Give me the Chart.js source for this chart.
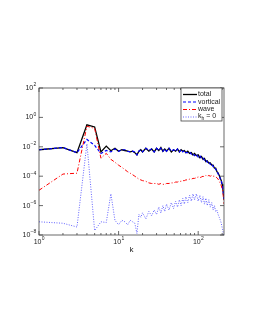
<!DOCTYPE html>
<html>
<head>
<meta charset="utf-8">
<script src="https://cdn.jsdelivr.net/npm/chart.js@4.4.1/dist/chart.umd.min.js"></script>
<style>
  html, body { margin: 0; padding: 0; background: #fff; }
  canvas { display: block; }
</style>
</head>
<body>
<canvas id="espectro" width="255" height="330"></canvas>
<script>
// wavenumbers
const kValues = [1, 2, 3, 4, 5, 6, 7, 8, 9, 10,
  11, 12, 13, 14, 15, 16, 17, 18, 19, 20,
  22, 24, 26, 28, 30, 32, 34, 36, 38, 40,
  43, 46, 49, 52, 55, 58, 61, 64, 67, 70,
  74, 78, 82, 86, 90, 95, 100, 105, 110, 115,
  120, 125, 130, 136, 142, 148, 154, 160, 166, 172,
  178, 184, 190, 195, 200, 204, 208, 211];

const total = [6.3e-3, 8.9e-3, 4.0e-3, 0.316, 0.224, 4.5e-3, 1.12e-2, 5.4e-3, 7.9e-3, 5.0e-3,
  6.3e-3, 5.6e-3, 5.0e-3, 4.5e-3, 5.0e-3, 4.0e-3, 2.8e-3, 5.0e-3, 6.3e-3, 4.5e-3,
  7.9e-3, 5.0e-3, 7.1e-3, 4.5e-3, 7.9e-3, 5.6e-3, 8.9e-3, 5.0e-3, 7.1e-3, 5.0e-3,
  7.9e-3, 4.5e-3, 6.3e-3, 5.0e-3, 7.1e-3, 4.5e-3, 6.3e-3, 5.0e-3, 5.6e-3, 4.0e-3,
  5.0e-3, 3.5e-3, 4.0e-3, 2.8e-3, 3.5e-3, 2.5e-3, 2.8e-3, 1.8e-3, 2.2e-3, 1.4e-3,
  1.6e-3, 1.0e-3, 1.12e-3, 7.9e-4, 7.9e-4, 5.6e-4, 5.6e-4, 3.5e-4, 3.5e-4, 2.0e-4,
  1.6e-4, 1.1e-4, 7.1e-5, 5.0e-5, 2.8e-5, 1.4e-5, 6.3e-6, 2.5e-6];

const vortical = [6.3e-3, 8.9e-3, 4.0e-3, 3.16e-2, 1.26e-2, 3.5e-3, 5.6e-3, 4.5e-3, 7.1e-3, 5.0e-3,
  6.3e-3, 6.3e-3, 5.0e-3, 4.5e-3, 5.0e-3, 4.5e-3, 2.8e-3, 5.0e-3, 6.3e-3, 4.5e-3,
  7.9e-3, 5.6e-3, 7.1e-3, 4.5e-3, 7.9e-3, 5.6e-3, 7.9e-3, 5.0e-3, 7.1e-3, 5.0e-3,
  7.9e-3, 5.0e-3, 6.3e-3, 5.0e-3, 7.1e-3, 4.5e-3, 6.3e-3, 4.5e-3, 5.6e-3, 4.0e-3,
  4.0e-3, 4.5e-3, 3.2e-3, 3.5e-3, 2.5e-3, 3.2e-3, 2.0e-3, 2.5e-3, 1.6e-3, 1.8e-3,
  1.2e-3, 1.3e-3, 8.9e-4, 1.0e-3, 6.3e-4, 7.1e-4, 4.5e-4, 4.5e-4, 2.8e-4, 2.5e-4,
  1.4e-4, 1.1e-4, 6.3e-5, 5.0e-5, 2.5e-5, 1.4e-5, 5.6e-6, 2.5e-6];

const wave = [1.1e-5, 1.4e-4, 1.6e-4, 0.251, 0.178, 1.66e-3, 3.6e-3, 1.4e-3, 8.9e-4, 5.6e-4,
  4.0e-4, 2.8e-4, 2.0e-4, 1.6e-4, 1.26e-4, 1.0e-4, 7.9e-5, 6.3e-5, 5.6e-5, 5.0e-5,
  4.5e-5, 3.5e-5, 3.2e-5, 3.2e-5, 3.2e-5, 2.8e-5, 3.2e-5, 2.8e-5, 2.8e-5, 3.2e-5,
  3.2e-5, 3.5e-5, 3.5e-5, 4.0e-5, 4.0e-5, 4.5e-5, 4.5e-5, 5.0e-5, 5.0e-5, 5.6e-5,
  5.6e-5, 6.3e-5, 6.3e-5, 7.1e-5, 7.1e-5, 7.9e-5, 8.9e-5, 7.9e-5, 8.9e-5, 1.0e-4,
  8.9e-5, 1.12e-4, 1.0e-4, 1.12e-4, 1.0e-4, 1.12e-4, 1.0e-4, 1.0e-4, 8.9e-5, 7.9e-5,
  6.3e-5, 4.5e-5, 3.2e-5, 2.2e-5, 1.4e-5, 8.0e-6, 3.2e-6, 1.3e-6];

const kh0 = [7.9e-8, 6.3e-8, 3.5e-8, 1.58e-2, 2.0e-8, 7.9e-8, 7.1e-8, 6.3e-6, 1.0e-7, 5.0e-8,
  1.0e-7, 7.9e-8, 5.0e-8, 1.0e-7, 7.9e-8, 6.3e-8, 1.26e-8, 2.5e-7, 1.6e-7, 3.2e-7,
  1.26e-7, 4.0e-7, 2.0e-7, 5.0e-7, 2.5e-7, 7.9e-7, 3.2e-7, 1.0e-6, 4.0e-7, 1.26e-6,
  5.0e-7, 1.6e-6, 6.3e-7, 2.0e-6, 7.9e-7, 2.5e-6, 1.0e-6, 3.2e-6, 1.26e-6, 4.0e-6,
  1.6e-6, 5.0e-6, 2.0e-6, 6.3e-6, 2.5e-6, 6.3e-6, 2.0e-6, 5.0e-6, 1.6e-6, 4.0e-6,
  1.26e-6, 3.2e-6, 1.0e-6, 2.5e-6, 7.9e-7, 1.6e-6, 5.0e-7, 1.0e-6, 4.0e-7, 5.0e-7,
  2.5e-7, 1.6e-7, 1.0e-7, 6.3e-8, 3.2e-8, 2.0e-8, 1.0e-8, 1.0e-8];

// axis ticks (exponents)
const xTickExp = [0, 1, 2];
const yTickExp = [2, 0, -2, -4, -6, -8];
const fonte = '"Liberation Sans", Arial, sans-serif';

function pontos(serie) {
  return kValues.map((k, i) => ({ x: k, y: serie[i] }));
}

const series = [
  { nome: 'total', dados: total, cor: '#000000', largura: 1.3, traco: [] },
  { nome: 'vortical', dados: vortical, cor: '#0000ff', largura: 1.2, traco: [3, 2] },
  { nome: 'wave', dados: wave, cor: '#ff0000', largura: 1, traco: [4, 2, 1, 2] },
  { nome: 'kh0', dados: kh0, cor: 'rgba(60,60,255,0.8)', largura: 1, traco: [1, 1.5] }
];

// desenha "10" com expoente
function textoPotencia(ctx, exp, x, y, alinhamento) {
  const base = '10';
  const sup = String(exp).replace('-', '\u2212');
  ctx.font = '7px ' + fonte;
  const wb = ctx.measureText(base).width;
  ctx.font = '5px ' + fonte;
  const ws = ctx.measureText(sup).width;
  let x0 = x;
  if (alinhamento === 'center') x0 = x - (wb + ws) / 2;
  if (alinhamento === 'right') x0 = x - (wb + ws);
  ctx.textAlign = 'left';
  ctx.textBaseline = 'middle';
  ctx.font = '7px ' + fonte;
  ctx.fillText(base, x0, y);
  ctx.font = '5px ' + fonte;
  ctx.fillText(sup, x0 + wb + 0.3, y - 3);
}

const eixosPlugin = {
  id: 'eixosMatlab',
  afterDraw(chart) {
    const ctx = chart.ctx;
    const a = chart.chartArea;
    const sx = chart.scales.x;
    const sy = chart.scales.y;
    ctx.save();
    ctx.strokeStyle = '#444';
    ctx.lineWidth = 0.8;
    ctx.setLineDash([]);
    ctx.strokeRect(a.left, a.top, a.right - a.left, a.bottom - a.top);

    // ticks do eixo x (maiores e menores)
    ctx.beginPath();
    for (let d = 0; d <= 2; d++) {
      for (let m = 1; m <= 9; m++) {
        const v = m * Math.pow(10, d);
        if (v > sx.max) continue;
        const px = sx.getPixelForValue(v);
        const len = m === 1 ? 4 : 2;
        ctx.moveTo(px, a.bottom); ctx.lineTo(px, a.bottom - len);
        ctx.moveTo(px, a.top); ctx.lineTo(px, a.top + len);
      }
    }
    // ticks do eixo y
    yTickExp.forEach(e => {
      const py = sy.getPixelForValue(Math.pow(10, e));
      ctx.moveTo(a.left, py); ctx.lineTo(a.left + 4, py);
      ctx.moveTo(a.right, py); ctx.lineTo(a.right - 4, py);
    });
    ctx.stroke();

    ctx.fillStyle = '#222';
    xTickExp.forEach(e => {
      textoPotencia(ctx, e, sx.getPixelForValue(Math.pow(10, e)), a.bottom + 7, 'center');
    });
    yTickExp.forEach(e => {
      textoPotencia(ctx, e, a.left - 3, sy.getPixelForValue(Math.pow(10, e)), 'right');
    });

    // rótulo do eixo
    ctx.font = '8px ' + fonte;
    ctx.textAlign = 'center';
    ctx.textBaseline = 'middle';
    ctx.fillText('k', (a.left + a.right) / 2, a.bottom + 15);

    // legenda
    const lx = a.right - 43, ly = a.top, lw = 41, lh = 33;
    ctx.fillStyle = '#fff';
    ctx.fillRect(lx, ly, lw, lh);
    ctx.strokeStyle = '#444';
    ctx.lineWidth = 0.8;
    ctx.strokeRect(lx, ly, lw, lh);
    const ys = [ly + 6.5, ly + 14, ly + 21.5, ly + 29];
    series.forEach((s, i) => {
      ctx.beginPath();
      ctx.strokeStyle = s.cor;
      ctx.lineWidth = s.largura;
      ctx.setLineDash(s.traco);
      ctx.moveTo(lx + 2, ys[i]);
      ctx.lineTo(lx + 16, ys[i]);
      ctx.stroke();
      ctx.setLineDash([]);
      ctx.fillStyle = '#222';
      ctx.textAlign = 'left';
      ctx.textBaseline = 'middle';
      ctx.font = '7px ' + fonte;
      if (s.nome === 'kh0') {
        ctx.fillText('k', lx + 17, ys[i] - 1);
        const wk = ctx.measureText('k').width;
        ctx.font = '5px ' + fonte;
        ctx.fillText('h', lx + 17 + wk, ys[i] + 2);
        const wh = ctx.measureText('h').width;
        ctx.font = '7px ' + fonte;
        ctx.fillText(' = 0', lx + 17 + wk + wh, ys[i] - 1);
      } else {
        ctx.fillText(s.nome, lx + 17, ys[i]);
      }
    });
    ctx.restore();
  }
};

document.addEventListener('DOMContentLoaded', function () {
  const ctx = document.getElementById('espectro').getContext('2d');
  new Chart(ctx, {
    type: 'line',
    data: {
      datasets: series.map((s, i) => ({
        label: s.nome,
        data: pontos(s.dados),
        borderColor: s.cor,
        borderWidth: s.largura,
        borderDash: s.traco,
        pointRadius: 0,
        fill: false,
        tension: 0,
        order: series.length - i
      }))
    },
    options: {
      responsive: false,
      animation: false,
      devicePixelRatio: 1,
      layout: { padding: { left: 39, top: 88, right: 31, bottom: 95 } },
      plugins: { legend: { display: false }, tooltip: { enabled: false } },
      scales: {
        x: { type: 'logarithmic', min: 1, max: 211, display: false },
        y: { type: 'logarithmic', min: 1e-8, max: 1e2, display: false }
      }
    },
    plugins: [eixosPlugin]
  });
});
</script>
</body>
</html>
